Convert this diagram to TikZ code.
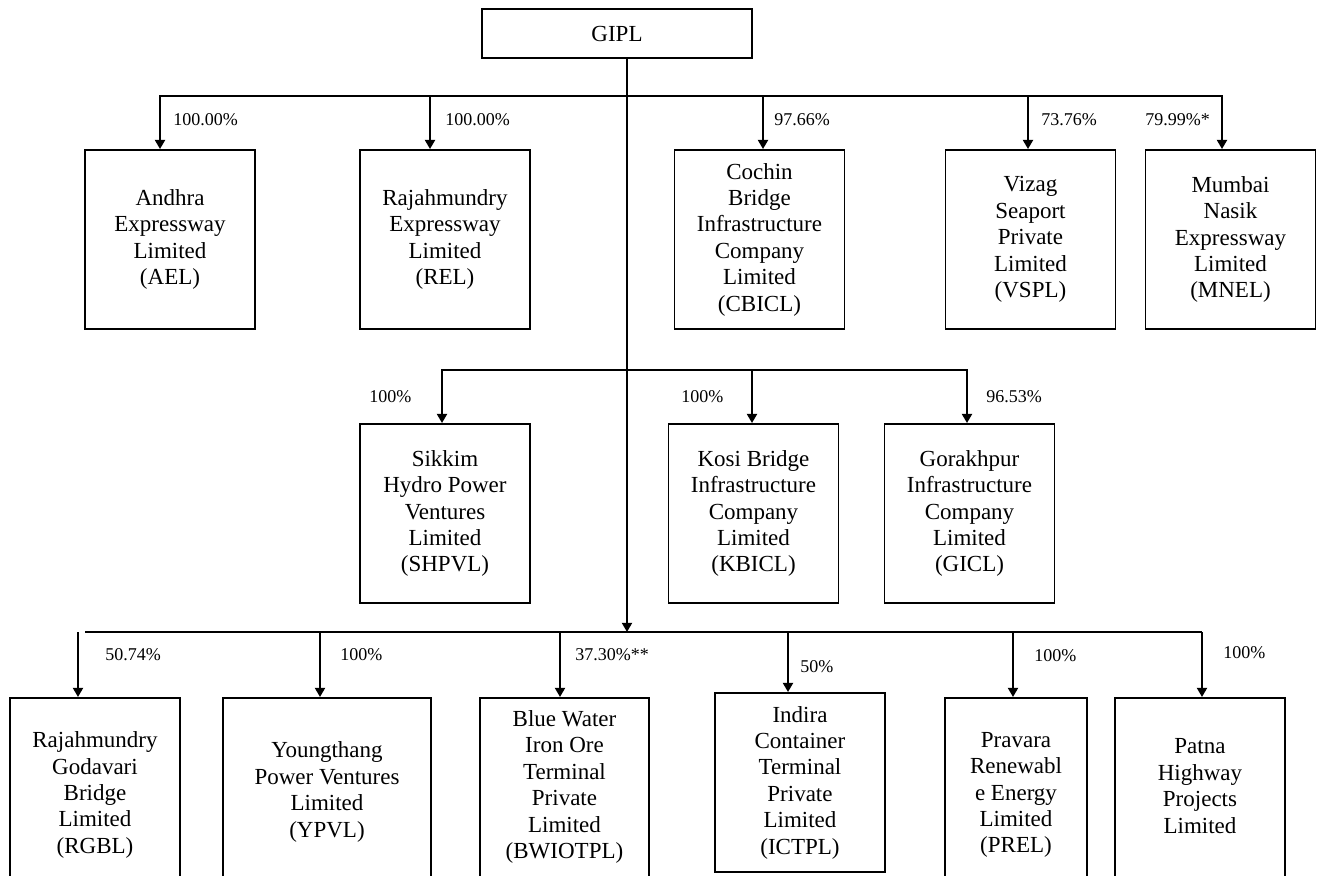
\documentclass[tikz,border=0pt]{standalone}
\usepackage{fontspec}
\setmainfont{Liberation Serif}
\usetikzlibrary{arrows.meta}
\tikzset{
  box/.style={draw, line width=0.95pt, align=center, inner sep=0pt,
    font=\fontsize{11.5}{13.2}\selectfont},
  toprow/.style={box, minimum width=85pt, minimum height=89.5pt},
  botrow/.style={box, anchor=north, minimum height=100pt},
  txt/.style={align=center, inner sep=0pt, font=\fontsize{11.5}{13.2}\selectfont},
  pct/.style={anchor=west, inner sep=0pt, font=\fontsize{9}{10}\selectfont},
  arr/.style={line width=1.1pt, -{Triangle[length=4.6pt,width=5pt]}},
  bar/.style={line width=0.85pt},
}
\begin{document}
\begin{tikzpicture}[x=0.5pt,y=-0.5pt]
\useasboundingbox (0,0) rectangle (1319,875);
\clip (0,0) rectangle (1319,875);

% root
\node[box, minimum width=135pt, minimum height=24.5pt] (GIPL) at (617,33.5) {GIPL};

% top row
\node[toprow] (AEL)   at (170,239.5)   {Andhra\\Expressway\\Limited\\(AEL)};
\node[toprow] (REL)   at (445,239.5)   {Rajahmundry\\Expressway\\Limited\\(REL)};
\node[toprow] (CBICL) at (759.5,239.5) {Cochin\\Bridge\\Infrastructure\\Company\\Limited\\(CBICL)};
\node[toprow] (VSPL)  at (1030.5,239.5){Vizag\\Seaport\\Private\\Limited\\(VSPL)};
\node[toprow] (MNEL)  at (1230.5,239.5){Mumbai\\Nasik\\Expressway\\Limited\\(MNEL)};

% middle row
\node[toprow] (SHPVL) at (445,513.5)   {Sikkim\\Hydro Power\\Ventures\\Limited\\(SHPVL)};
\node[toprow] (KBICL) at (753.5,513.5) {Kosi Bridge\\Infrastructure\\Company\\Limited\\(KBICL)};
\node[toprow] (GICL)  at (969.5,513.5) {Gorakhpur\\Infrastructure\\Company\\Limited\\(GICL)};

% bottom row (boxes run past the lower edge)
\node[botrow, minimum width=85pt]   (RGBL)    at (95,697)    {};
\node[botrow, minimum width=104pt]  (YPVL)    at (327,697)   {};
\node[botrow, minimum width=84.5pt] (BWIOTPL) at (564.5,697) {};
\node[box, minimum width=85pt, minimum height=89.5pt] (ICTPL) at (800,782.5) {Indira\\Container\\Terminal\\Private\\Limited\\(ICTPL)};
\node[botrow, minimum width=71pt]   (PREL)    at (1016,697)  {};
\node[botrow, minimum width=85pt]   (PHPL)    at (1200,697)  {};

\node[txt] (RGBLt)    at (95,795)    {Rajahmundry\\Godavari\\Bridge\\Limited\\(RGBL)};
\node[txt] (YPVLt)    at (327,792)   {Youngthang\\Power Ventures\\Limited\\(YPVL)};
\node[txt] (BWIOTPLt) at (564.5,787) {Blue Water\\Iron Ore\\Terminal\\Private\\Limited\\(BWIOTPL)};
\node[txt] (PRELt)    at (1016,795)  {Pravara\\Renewabl\\e Energy\\Limited\\(PREL)};
\node[txt] (PHPLt)    at (1200,786)  {Patna\\Highway\\Projects\\Limited};

% junction coordinates
\coordinate (t0) at (627,96);
\coordinate (m0) at (627,370);
\coordinate (b0) at (627,632);
\coordinate (jA) at (160,96);
\coordinate (jR) at (430,96);
\coordinate (jC) at (763,96);
\coordinate (jV) at (1028,96);
\coordinate (jM) at (1222,96);
\coordinate (jS) at (442,370);
\coordinate (jK) at (752,370);
\coordinate (jG) at (967,370);
\coordinate (jRG) at (78,632);
\coordinate (jRGbar) at (85,632);
\coordinate (jY) at (320,632);
\coordinate (jB) at (560,632);
\coordinate (jI) at (788,632);
\coordinate (jP) at (1013,632);
\coordinate (jPH) at (1202,632);

% trunk
\draw[arr] (GIPL.south -| b0) -- (b0);

% top level connectors
\draw[arr] (t0) -| (jA |- AEL.north);
\draw[arr] (t0) -| (jM |- MNEL.north);
\draw[arr] (jR) -- (jR |- REL.north);
\draw[arr] (jC) -- (jC |- CBICL.north);
\draw[arr] (jV) -- (jV |- VSPL.north);

% middle connectors
\draw[arr] (m0) -| (jS |- SHPVL.north);
\draw[arr] (m0) -| (jG |- GICL.north);
\draw[arr] (jK) -- (jK |- KBICL.north);

% bottom connectors
\draw[bar] (jRGbar) -- (b0);
\draw[bar] (b0) -| (jPH);
\draw[arr] (jPH) -- (jPH |- PHPL.north);
\draw[arr] (jRG) -- (jRG |- RGBL.north);
\draw[arr] (jY) -- (jY |- YPVL.north);
\draw[arr] (jB) -- (jB |- BWIOTPL.north);
\draw[arr] (jI) -- (jI |- ICTPL.north);
\draw[arr] (jP) -- (jP |- PREL.north);

% percentages
\node[pct] (pA) at (173,120)  {100.00\%};
\node[pct] (pR) at (445,120)  {100.00\%};
\node[pct] (pC) at (774,120)  {97.66\%};
\node[pct] (pV) at (1041,120) {73.76\%};
\node[pct] (pM) at (1145,120) {79.99\%*};
\node[pct] (pS) at (369,397)  {100\%};
\node[pct] (pK) at (681,397)  {100\%};
\node[pct] (pG) at (986,397)  {96.53\%};
\node[pct] (pRG) at (105,655) {50.74\%};
\node[pct] (pY) at (340,655)  {100\%};
\node[pct] (pB) at (575,655)  {37.30\%**};
\node[pct] (pI) at (800,667)  {50\%};
\node[pct] (pP) at (1034,656) {100\%};
\node[pct] (pPH) at (1223,653){100\%};
\end{tikzpicture}
\end{document}
